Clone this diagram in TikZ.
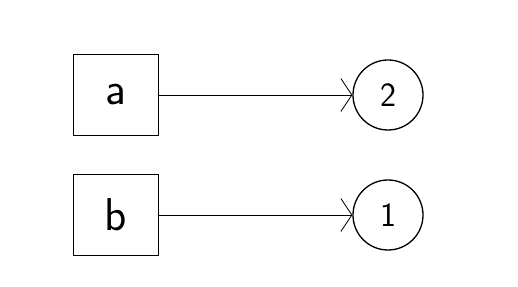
\documentclass[tikz,border=0pt]{standalone}
\usetikzlibrary{positioning,arrows.meta}
\tikzset{
  letterbox/.style={draw, line width=1.3pt, minimum width=85pt, minimum height=81pt,
                    inner sep=0pt, font=\sffamily\fontsize{46}{50}\selectfont},
  digit/.style={draw, circle, line width=1.3pt, minimum size=70pt,
                inner sep=0pt, font=\sffamily\fontsize{34}{38}\selectfont},
  flow/.style={-{Straight Barb[length=11pt, width=33pt, line width=0.8pt]}, line width=0.7pt},
}
\begin{document}
\begin{tikzpicture}[x=1pt, y=1pt]
    \useasboundingbox (0,0) rectangle (518,286);
    \node[letterbox] (a) at (116,191) {a};
    \node[letterbox] (b) at (116,71) {b};
    \node[digit] (two) at (388,191) {2};
    \node[digit] (one) at (388,71) {1};

    \draw[flow] (a) -- (two);
    \draw[flow] (b) -- (one);
  \end{tikzpicture}
\end{document}
